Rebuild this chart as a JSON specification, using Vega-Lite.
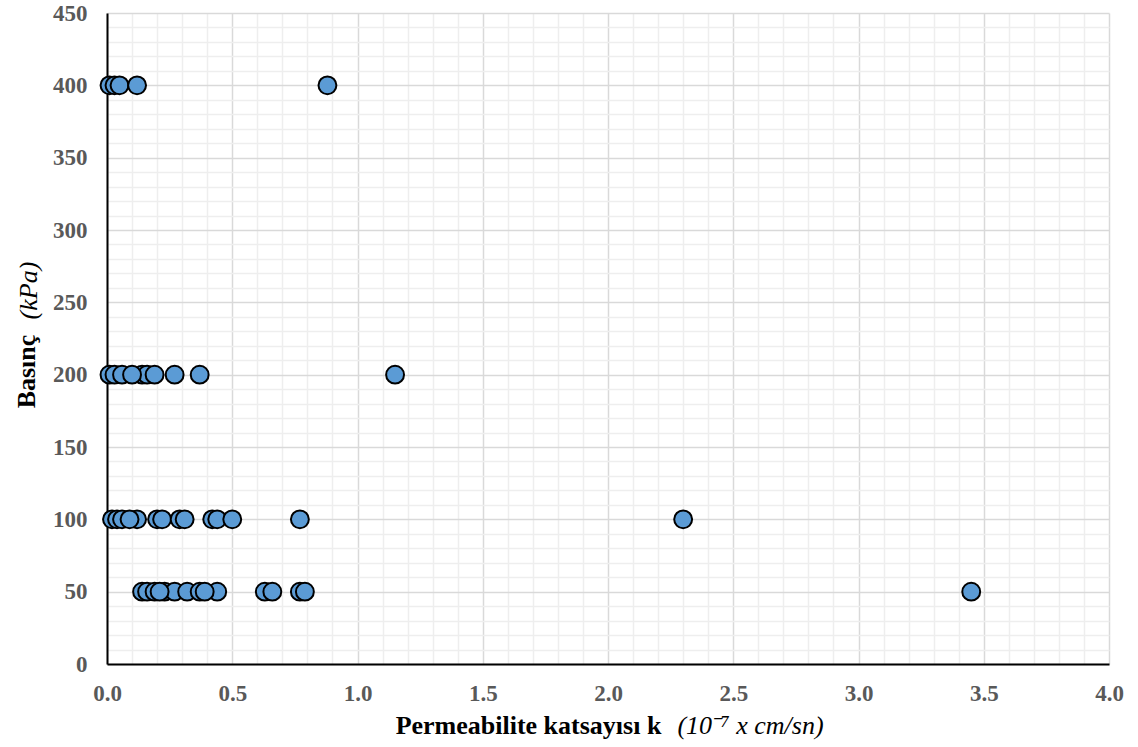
{
  "$schema": "https://vega.github.io/schema/vega-lite/v6.json",
  "width": 1002,
  "height": 651,
  "autosize": "none",
  "padding": {"left": 107, "top": 13, "right": 29, "bottom": 83},
  "background": "white",
  "config": {
    "view": {"stroke": null},
    "axis": {
      "labelFont": "Liberation Serif",
      "labelFontWeight": "bold",
      "labelFontSize": 23,
      "labelColor": "#595959",
      "titleFont": "Liberation Serif",
      "titleFontSize": 26,
      "titleColor": "#000000",
      "ticks": false
    }
  },
  "data": {
    "values": [
      {"k": 0.01, "p": 400}, {"k": 0.03, "p": 400}, {"k": 0.05, "p": 400}, {"k": 0.12, "p": 400}, {"k": 0.88, "p": 400},
      {"k": 0.01, "p": 200}, {"k": 0.03, "p": 200}, {"k": 0.06, "p": 200}, {"k": 0.14, "p": 200}, {"k": 0.16, "p": 200},
      {"k": 0.19, "p": 200}, {"k": 0.10, "p": 200}, {"k": 0.27, "p": 200}, {"k": 0.37, "p": 200}, {"k": 1.15, "p": 200},
      {"k": 0.02, "p": 100}, {"k": 0.04, "p": 100}, {"k": 0.06, "p": 100}, {"k": 0.12, "p": 100}, {"k": 0.09, "p": 100},
      {"k": 0.20, "p": 100}, {"k": 0.22, "p": 100}, {"k": 0.29, "p": 100}, {"k": 0.31, "p": 100}, {"k": 0.42, "p": 100},
      {"k": 0.44, "p": 100}, {"k": 0.50, "p": 100}, {"k": 0.77, "p": 100}, {"k": 2.30, "p": 100},
      {"k": 0.14, "p": 50}, {"k": 0.16, "p": 50}, {"k": 0.19, "p": 50}, {"k": 0.23, "p": 50}, {"k": 0.27, "p": 50},
      {"k": 0.32, "p": 50}, {"k": 0.37, "p": 50}, {"k": 0.44, "p": 50}, {"k": 0.39, "p": 50}, {"k": 0.21, "p": 50},
      {"k": 0.63, "p": 50}, {"k": 0.66, "p": 50}, {"k": 0.77, "p": 50}, {"k": 0.79, "p": 50}, {"k": 3.45, "p": 50}
    ]
  },
  "layer": [
    {
      "mark": {"type": "point", "opacity": 0},
      "encoding": {
        "x": {
          "field": "k", "type": "quantitative",
          "scale": {"domain": [0, 4], "nice": false, "zero": true},
          "axis": {
            "orient": "top",
            "values": [0.1, 0.2, 0.3, 0.4, 0.6, 0.7, 0.8, 0.9, 1.1, 1.2, 1.3, 1.4, 1.6, 1.7, 1.8, 1.9, 2.1, 2.2, 2.3, 2.4, 2.6, 2.7, 2.8, 2.9, 3.1, 3.2, 3.3, 3.4, 3.6, 3.7, 3.8, 3.9],
            "grid": true, "gridColor": "#eeeeee", "gridWidth": 1.5,
            "labels": false, "domain": false,
            "title": "(10ˉ⁷ x cm/sn)",
            "titleFontStyle": "italic", "titleFontWeight": "normal",
            "titleAlign": "center", "titleBaseline": "alphabetic",
            "titleX": 643, "titleY": 720
          }
        },
        "y": {
          "field": "p", "type": "quantitative",
          "scale": {"domain": [0, 450], "nice": false},
          "axis": {
            "orient": "right",
            "values": [10, 20, 30, 40, 60, 70, 80, 90, 110, 120, 130, 140, 160, 170, 180, 190, 210, 220, 230, 240, 260, 270, 280, 290, 310, 320, 330, 340, 360, 370, 380, 390, 410, 420, 430, 440],
            "grid": true, "gridColor": "#eeeeee", "gridWidth": 1.5,
            "labels": false, "domain": false,
            "title": "(kPa)",
            "titleFontStyle": "italic", "titleFontWeight": "normal",
            "titleAngle": -90, "titleAlign": "center", "titleBaseline": "alphabetic",
            "titleX": -1073, "titleY": 277
          }
        }
      }
    },
    {
      "mark": {"type": "point", "shape": "circle", "filled": true, "size": 320, "fill": "#5b9bd5", "stroke": "#000000", "strokeWidth": 2, "opacity": 1},
      "encoding": {
        "x": {
          "field": "k", "type": "quantitative",
          "scale": {"domain": [0, 4], "nice": false},
          "axis": {
            "orient": "bottom",
            "values": [0, 0.5, 1, 1.5, 2, 2.5, 3, 3.5, 4],
            "format": ".1f",
            "grid": true, "gridColor": "#d9d9d9", "gridWidth": 1.5,
            "domainColor": "#000000", "domainWidth": 2,
            "labelPadding": 18, "labelFlush": false,
            "title": "Permeabilite katsayısı k",
            "titleFontWeight": "bold",
            "titleAlign": "center", "titleBaseline": "alphabetic",
            "titleX": 421, "titleY": 69
          }
        },
        "y": {
          "field": "p", "type": "quantitative",
          "scale": {"domain": [0, 450], "nice": false},
          "axis": {
            "orient": "left",
            "values": [0, 50, 100, 150, 200, 250, 300, 350, 400, 450],
            "grid": true, "gridColor": "#d9d9d9", "gridWidth": 1.5,
            "domainColor": "#000000", "domainWidth": 2,
            "labelPadding": 20,
            "title": "Basınç",
            "titleFontWeight": "bold",
            "titleAngle": -90, "titleAlign": "center", "titleBaseline": "alphabetic",
            "titleX": -73, "titleY": 358
          }
        }
      }
    }
  ],
  "resolve": {"axis": {"x": "independent", "y": "independent"}}
}
